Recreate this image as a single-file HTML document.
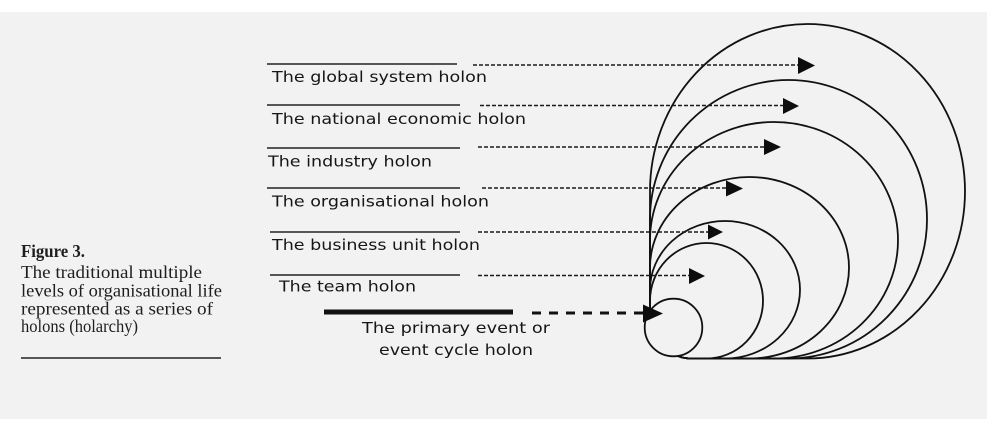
<!DOCTYPE html>
<html>
<head>
<meta charset="utf-8">
<style>
  html,body{margin:0;padding:0;background:#ffffff;}
  svg{display:block;}
  .lbl{font-family:"DejaVu Sans","Liberation Sans",sans-serif;font-size:15px;fill:#161616;}
  .cap{font-family:"Liberation Serif",serif;font-size:18px;fill:#1e1e1e;}
</style>
</head>
<body>
<svg width="998" height="428" viewBox="0 0 998 428" xmlns="http://www.w3.org/2000/svg">
  <rect x="0" y="0" width="998" height="428" fill="#ffffff"/>
  <rect x="0" y="12" width="987" height="407" fill="#f2f2f2"/>

  <!-- Caption -->
  <text class="cap" x="21" y="257" font-weight="bold" textLength="64" lengthAdjust="spacingAndGlyphs">Figure 3.</text>
  <text class="cap" x="21" y="278" textLength="181" lengthAdjust="spacingAndGlyphs">The traditional multiple</text>
  <text class="cap" x="21" y="296.5" textLength="201" lengthAdjust="spacingAndGlyphs">levels of organisational life</text>
  <text class="cap" x="21" y="314.5" textLength="192" lengthAdjust="spacingAndGlyphs">represented as a series of</text>
  <text class="cap" x="21" y="332" textLength="117" lengthAdjust="spacingAndGlyphs">holons (holarchy)</text>
  <line x1="21" y1="358" x2="221" y2="358" stroke="#222" stroke-width="1.5"/>

  <!-- Holon shapes -->
  <g fill="none" stroke="#111" stroke-width="1.8">
    <path d="M650 191.25 A157.5 167.25 0 0 1 807.5 24 A157.5 167.25 0 0 1 965 191.25 A157.5 167.25 0 0 1 807.5 358.5 L692 358.5 Q675 358.5 673.5 350 L673 327 L650 312 Z"/>
    <path d="M650 219.25 A138.5 139.25 0 0 1 788.5 80 A138.5 139.25 0 0 1 927 219.25 A138.5 139.25 0 0 1 788.5 358.5 L692 358.5 Q675 358.5 673.5 350 L673 327 L650 312 Z"/>
    <path d="M650 240.25 A124 118.25 0 0 1 774 122 A124 118.25 0 0 1 898 240.25 A124 118.25 0 0 1 774 358.5 L692 358.5 Q675 358.5 673.5 350 L673 327 L650 312 Z"/>
    <path d="M650 267.75 A99.5 90.75 0 0 1 749.5 177 A99.5 90.75 0 0 1 849 267.75 A99.5 90.75 0 0 1 749.5 358.5 L692 358.5 Q675 358.5 673.5 350 L673 327 L650 312 Z"/>
    <path d="M650 289.75 A75 68.75 0 0 1 725 221 A75 68.75 0 0 1 800 289.75 A75 68.75 0 0 1 725 358.5 L692 358.5 Q675 358.5 673.5 350 L673 327 L650 312 Z"/>
    <path d="M650 300.75 A56.5 57.75 0 0 1 706.5 243 A56.5 57.75 0 0 1 763 300.75 A56.5 57.75 0 0 1 706.5 358.5 L692 358.5 Q675 358.5 673.5 350 L673 327 L650 312 Z"/>
  </g>
  <circle cx="673.5" cy="327.5" r="28.8" fill="#f2f2f2" stroke="#111" stroke-width="1.8"/>

  <!-- Solid lines above labels -->
  <g stroke="#222" stroke-width="1.5">
    <line x1="267" y1="64" x2="457" y2="64"/>
    <line x1="267" y1="105" x2="460" y2="105"/>
    <line x1="267" y1="148" x2="460" y2="148"/>
    <line x1="267" y1="188" x2="460" y2="188"/>
    <line x1="270" y1="232" x2="460" y2="232"/>
    <line x1="270" y1="275" x2="460" y2="275"/>
  </g>
  <line x1="324" y1="312" x2="513" y2="312" stroke="#111" stroke-width="5"/>

  <!-- Dashed connectors -->
  <g stroke="#1a1a1a" stroke-width="1.5" stroke-dasharray="4 2" fill="none">
    <line x1="473" y1="65" x2="799" y2="65"/>
    <line x1="480" y1="105.5" x2="784" y2="105.5"/>
    <line x1="478" y1="147" x2="765" y2="147"/>
    <line x1="482" y1="188" x2="727" y2="188"/>
    <line x1="478" y1="232" x2="709" y2="232"/>
    <line x1="478" y1="275.5" x2="690" y2="275.5"/>
  </g>
  <line x1="532" y1="313" x2="644" y2="313" stroke="#111" stroke-width="3" stroke-dasharray="9 8"/>

  <!-- Arrowheads -->
  <g fill="#0d0d0d">
    <polygon points="798,57 815,65.5 798,74"/>
    <polygon points="783,98 799,106 783,114"/>
    <polygon points="764,139 781,147 764,155"/>
    <polygon points="726,180.5 743,188.5 726,196.5"/>
    <polygon points="708,224.5 723,232 708,239.5"/>
    <polygon points="689,268 705,276 689,284"/>
    <polygon points="643,304.5 663,313.5 643,322.5"/>
  </g>

  <!-- Labels -->
  <text class="lbl" x="272" y="82" textLength="215" lengthAdjust="spacingAndGlyphs">The global system holon</text>
  <text class="lbl" x="272" y="124" textLength="254" lengthAdjust="spacingAndGlyphs">The national economic holon</text>
  <text class="lbl" x="268" y="166.5" textLength="164" lengthAdjust="spacingAndGlyphs">The industry holon</text>
  <text class="lbl" x="272" y="206.5" textLength="217" lengthAdjust="spacingAndGlyphs">The organisational holon</text>
  <text class="lbl" x="272" y="250" textLength="208" lengthAdjust="spacingAndGlyphs">The business unit holon</text>
  <text class="lbl" x="279" y="291.5" textLength="137" lengthAdjust="spacingAndGlyphs">The team holon</text>
  <text class="lbl" x="362" y="333" textLength="188" lengthAdjust="spacingAndGlyphs">The primary event or</text>
  <text class="lbl" x="379" y="355" textLength="154" lengthAdjust="spacingAndGlyphs">event cycle holon</text>
</svg>
</body>
</html>
